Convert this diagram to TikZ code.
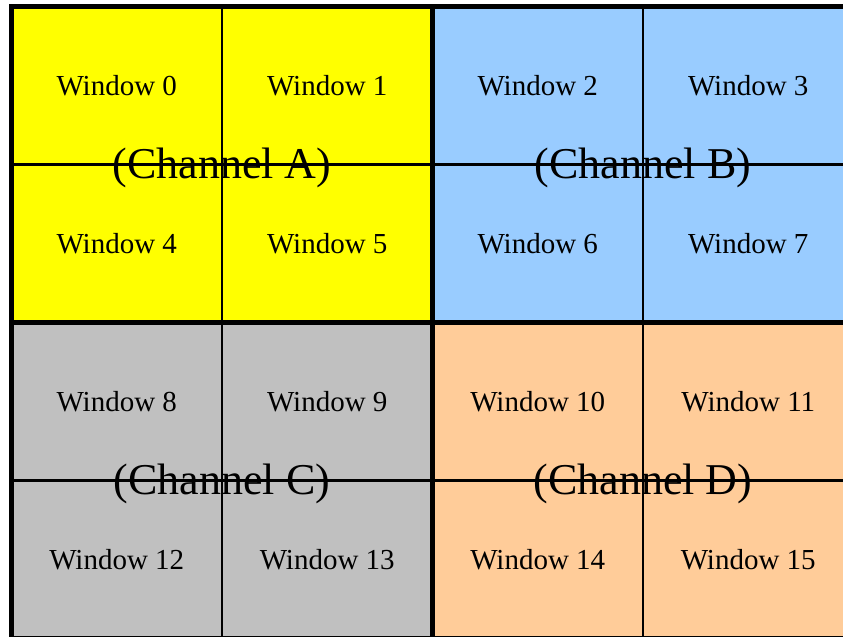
\documentclass[tikz,border=0pt]{standalone}
\usepackage{fontspec}
\setmainfont{Liberation Serif}
\definecolor{chA}{HTML}{FFFF00}
\definecolor{chB}{HTML}{99CCFF}
\definecolor{chC}{HTML}{C0C0C0}
\definecolor{chD}{HTML}{FFCC99}
\tikzset{
  wlabel/.style={anchor=base, inner sep=0pt, font=\fontsize{21.75pt}{24pt}\selectfont},
  chlabel/.style={anchor=base, inner sep=0pt, font=\fontsize{33pt}{36pt}\selectfont},
  thinline/.style={line width=2.1pt, black},
  thickline/.style={line width=3.75pt, black},
}
\begin{document}
\begin{tikzpicture}[x=0.75pt, y=-0.75pt]
  \useasboundingbox (0,0) rectangle (843,636);
  \clip (0,0) rectangle (843,636);
  % quadrant fills
  \fill[chA] (11.5,6.5) rectangle (432.5,322.5);
  \fill[chB] (432.5,6.5) rectangle (853.5,322.5);
  \fill[chC] (11.5,322.5) rectangle (432.5,638.5);
  \fill[chD] (432.5,322.5) rectangle (853.5,638.5);
  % window labels
  \foreach \r in {0,...,3} {
    \foreach \c in {0,...,3} {
      \pgfmathtruncatemacro{\n}{4*\r+\c}
      \node[wlabel] (w\n) at ({11.5+210.5*(\c+0.5)}, {6.5+158*(\r+0.5)+10}) {Window \n};
    }
  }
  % channel labels
  \node[chlabel] (chanA) at (222,178) {(Channel A)};
  \node[chlabel] (chanB) at (643,178) {(Channel B)};
  \node[chlabel] (chanC) at (222,494) {(Channel C)};
  \node[chlabel] (chanD) at (643,494) {(Channel D)};
  % window grid
  \foreach \x in {222,643} \draw[thinline] (\x,6.5) -- (\x,638.5);
  \foreach \y in {164.5,480.5} \draw[thinline] (11.5,\y) -- (853.5,\y);
  % channel borders
  \draw[thickline] (11.5,6.5) rectangle (853.5,638.5);
  \draw[thickline] (432.5,6.5) -- (432.5,638.5);
  \draw[thickline] (11.5,322.5) -- (853.5,322.5);
\end{tikzpicture}
\end{document}
